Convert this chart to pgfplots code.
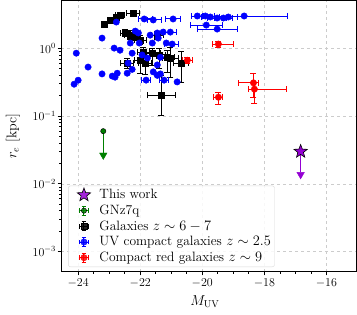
\documentclass[border=0pt]{standalone}
\usepackage{pgfplots}
\pgfplotsset{compat=1.18}
\usepackage{pgfplotstable}
\usetikzlibrary{plotmarks}
\definecolor{mpurple}{HTML}{9400D3}
\definecolor{mgreen}{HTML}{008000}
\definecolor{mblue}{HTML}{0000FF}
\definecolor{mred}{HTML}{FF0000}

\pgfdeclareplotmark{fivestar}{%
  \pgfpathmoveto{\pgfqpointpolar{90}{\pgfplotmarksize}}%
  \pgfpathlineto{\pgfqpointpolar{126}{0.42\pgfplotmarksize}}%
  \pgfpathlineto{\pgfqpointpolar{162}{\pgfplotmarksize}}%
  \pgfpathlineto{\pgfqpointpolar{198}{0.42\pgfplotmarksize}}%
  \pgfpathlineto{\pgfqpointpolar{234}{\pgfplotmarksize}}%
  \pgfpathlineto{\pgfqpointpolar{270}{0.42\pgfplotmarksize}}%
  \pgfpathlineto{\pgfqpointpolar{306}{\pgfplotmarksize}}%
  \pgfpathlineto{\pgfqpointpolar{342}{0.42\pgfplotmarksize}}%
  \pgfpathlineto{\pgfqpointpolar{18}{\pgfplotmarksize}}%
  \pgfpathlineto{\pgfqpointpolar{54}{0.42\pgfplotmarksize}}%
  \pgfpathclose
  \pgfusepathqfillstroke
}

\pgfplotstableread{
x y exm exp eyp eym
-23.16 2.29 0.10 0.10 0.15 0.15
-22.94 2.63 0.10 0.10 0.15 0.15
-22.77 2.90 0.10 0.10 0.15 0.15
-22.65 3.10 0.15 0.15 0.20 0.20
-22.23 3.33 0.20 0.20 0.25 0.25
-22.48 1.68 0.15 0.15 0.20 0.20
-22.32 1.57 0.20 0.20 0.25 0.20
-22.16 1.47 0.15 0.15 0.15 0.15
-22.00 1.33 0.20 0.20 0.20 0.20
-21.45 1.57 0.20 0.20 0.20 0.20
-21.90 0.88 0.20 0.20 0.15 0.15
-21.61 0.85 0.25 0.25 0.15 0.30
-21.39 0.80 0.20 0.20 0.20 0.30
-21.13 0.74 0.25 0.25 0.20 0.30
-22.42 0.605 0.20 0.20 0.10 0.10
-21.84 0.605 0.20 0.20 0.15 0.20
-22.00 0.67 0.20 0.20 0.20 0.25
-20.68 0.605 0.25 0.25 0.28 0.29
-21.32 0.203 0.45 0.45 0.20 0.10
-21.03 0.72 0.25 0.25 0.30 0.35
}\blacktab

\pgfplotstableread{
x y
-24.13 0.296
-24.00 0.339
-24.06 0.85
-23.68 0.53
-23.23 1.42
-22.77 2.45
-22.84 1.01
-23.23 0.42
-22.90 0.39
-22.81 0.376
-22.74 0.43
-22.65 0.94
-22.42 0.43
-22.26 0.49
-22.39 0.605
-22.26 0.85
-22.32 1.20
-22.16 1.80
-21.58 0.45
-21.45 0.40
-21.35 0.42
-21.45 0.57
-21.77 0.72
-21.94 0.80
-21.61 1.20
-21.45 1.69
-21.26 1.74
-21.68 1.57
-21.42 1.42
-21.16 1.20
-21.35 0.74
-22.03 1.20
-22.06 1.69
-20.81 0.32
}\bluetab

\pgfplotstableread{
x y exm exp
-21.87 2.72 0.20 0.25
-21.58 2.63 0.20 0.25
-20.94 2.72 0.25 0.25
-20.97 1.16 0.25 0.20
-21.03 1.74 0.20 0.20
-21.81 0.34 0.15 0.15
-21.23 0.34 0.15 0.15
-20.16 3.01 0.20 0.20
-19.90 3.01 0.30 0.30
-19.74 2.91 0.30 0.30
-19.52 2.81 0.30 0.30
-19.32 2.81 0.30 0.30
-19.16 2.91 0.30 0.30
-18.65 3.01 1.35 1.39
-19.87 2.21 0.52 0.52
-19.52 1.93 0.64 0.65
}\blueerrtab

\pgfplotstableread{
x y exm exp eyp eym
-19.48 1.16 0.20 0.50 0.12 0.12
-20.48 0.67 0.15 0.15 0.07 0.07
-18.35 0.31 0.49 0.16 0.12 0.12
-18.32 0.25 0.20 1.03 0.06 0.095
-19.48 0.19 0.17 0.13 0.035 0.04
}\redtab

\pgfplotsset{
  errleg/.style={legend image code/.code={
    \path (0cm,0cm) (0.95cm,0cm);
    \draw[#1, line width=1pt]
      (0.47cm,-0.16cm)--(0.47cm,0.16cm) (0.30cm,0cm)--(0.64cm,0cm)
      (0.39cm,-0.16cm)--(0.55cm,-0.16cm) (0.39cm,0.16cm)--(0.55cm,0.16cm)
      (0.30cm,-0.08cm)--(0.30cm,0.08cm) (0.64cm,-0.08cm)--(0.64cm,0.08cm);
    \draw[##1] plot coordinates {(0.47cm,0cm)};
  }},
  starleg/.style={legend image code/.code={
    \path (0cm,0cm) (0.95cm,0cm);
    \draw[##1] plot coordinates {(0.47cm,0cm)};
  }},
}

\begin{document}
\begin{tikzpicture}
\begin{axis}[
  scale only axis, width=295pt, height=271pt,
  xmin=-24.55, xmax=-15.03,
  ymode=log, ymin=5e-4, ymax=5.1,
  xtick={-24,-22,-20,-18,-16}, minor x tick num=3,
  ytick={1e-3,1e-2,1e-1,1},
  grid=major, major grid style={dashed, gray!40, line width=0.6pt},
  tick align=outside, tick pos=left,
  major tick length=3.5pt, minor tick length=2pt,
  every tick/.style={black, line width=0.7pt},
  axis line style={line width=0.8pt},
  tick label style={font=\fontsize{12}{14}\selectfont},
  yticklabel style={inner sep=1.5pt},
  xlabel={$M_{\mathrm{UV}}$}, ylabel={$r_e$ [kpc]},
  every axis y label/.style={at={(rel axis cs:-0.163,0.5)}, rotate=90, anchor=center, font=\fontsize{14}{16}\selectfont},
  every axis x label/.style={at={(rel axis cs:0.487,-0.108)}, anchor=center, font=\fontsize{14}{16}\selectfont},
  legend style={at={(rel axis cs:0.024,0.018)}, anchor=south west,
    draw=gray!30, rounded corners=2pt, fill=white, fill opacity=0.85, text opacity=1,
    font=\fontsize{13.5}{15.5}\selectfont, row sep=1.5pt, inner sep=2pt,
    nodes={inner sep=1.6pt}},
  legend cell align=left,
  error bars/error bar style={line width=1pt},
]
% This work: upper limit
\addplot[mpurple, line width=1.2pt, forget plot] coordinates {(-16.83,0.030) (-16.83,0.0150)};
\addplot[only marks, mark=triangle*, mark size=4.3pt, mpurple, mark options={rotate=180}, forget plot] coordinates {(-16.83,0.0137)};
\addplot[only marks, mark=fivestar, mark size=7pt, mark options={fill=mpurple, draw=black, line width=0.6pt}, starleg] coordinates {(-16.83,0.030)};
\addlegendentry{This work}
% GNz7q
\addplot[mgreen, line width=1.2pt, forget plot] coordinates {(-23.19,0.06) (-23.19,0.029)};
\addplot[only marks, mark=triangle*, mark size=4.3pt, mgreen, mark options={rotate=180}, forget plot] coordinates {(-23.19,0.0265)};
\addplot[only marks, mark=*, mark size=2.6pt, mark options={fill=mgreen, draw=black, line width=0.5pt}, errleg=mgreen] coordinates {(-23.19,0.06)};
\addlegendentry{GNz7q}
% Galaxies z ~ 6-7
\addplot[only marks, mark=square*, mark size=2.8pt, black, errleg=black,
  error bars/.cd, x dir=both, x explicit, y dir=both, y explicit,
  error mark options={black, line width=1pt, mark size=3pt, rotate=90}]
  table[x=x, y=y, x error plus=exp, x error minus=exm, y error plus=eyp, y error minus=eym] {\blacktab};
\addlegendentry{Galaxies $z\sim 6-7$}
% UV compact z ~ 2.5
\addplot[only marks, mark=*, mark size=3.2pt, mblue, errleg=mblue] table[x=x, y=y] {\bluetab};
\addlegendentry{UV compact galaxies $z\sim 2.5$}
\addplot[only marks, mark=*, mark size=3.2pt, mblue, forget plot,
  error bars/.cd, x dir=both, x explicit,
  error mark options={mblue, line width=1pt, mark size=3pt, rotate=90}]
  table[x=x, y=y, x error plus=exp, x error minus=exm] {\blueerrtab};
% Compact red z ~ 9
\addplot[only marks, mark=*, mark size=3.2pt, mred, errleg=mred,
  error bars/.cd, x dir=both, x explicit, y dir=both, y explicit,
  error mark options={mred, line width=1pt, mark size=3pt, rotate=90}]
  table[x=x, y=y, x error plus=exp, x error minus=exm, y error plus=eyp, y error minus=eym] {\redtab};
\addlegendentry{Compact red galaxies $z\sim 9$}
\end{axis}
\pgfresetboundingbox
\path[use as bounding box] ([xshift=-61pt,yshift=-43pt]current axis.south west) rectangle ([xshift=0.5pt,yshift=0.5pt]current axis.north east);
\end{tikzpicture}
\end{document}
